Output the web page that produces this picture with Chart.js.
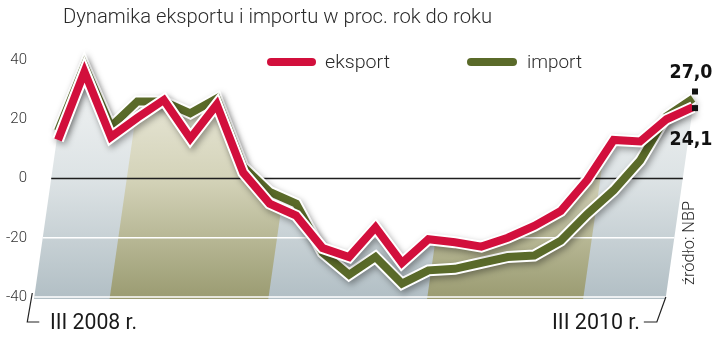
<!DOCTYPE html>
<html lang="pl">
<head>
<meta charset="UTF-8">
<title>Dynamika eksportu i importu</title>
<script src="https://cdn.jsdelivr.net/npm/chart.js"></script>
<style>
  body { margin: 0; background: #fff; }
</style>
</head>
<body>
<canvas id="wykres" width="720" height="354"></canvas>
<script>
// dane, % r/r
const miesiace = ['III 2008', 'IV 2008', 'V 2008', 'VI 2008', 'VII 2008', 'VIII 2008', 'IX 2008',
  'X 2008', 'XI 2008', 'XII 2008', 'I 2009', 'II 2009', 'III 2009', 'IV 2009', 'V 2009', 'VI 2009',
  'VII 2009', 'VIII 2009', 'IX 2009', 'X 2009', 'XI 2009', 'XII 2009', 'I 2010', 'II 2010', 'III 2010'];
const eksport = [13, 36, 14, 20.5, 26.5, 13.5, 25, 2, -8.5, -12.5, -23.5, -26.5, -16.5, -28.5,
  -20.5, -21.5, -23, -20, -16, -11, -0.5, 13, 12.5, 20, 24.1];
const importy = [16, 38, 17.5, 26, 26, 22, 27, 4, -4.5, -8.5, -25, -32.5, -26.5, -35.5,
  -31, -30.5, -28.5, -26.5, -26, -21, -12, -4, 6, 21, 27.0];
const yTicki = [40, 20, 0, -20, -40];
// okresy zacienione (indeksy miesiecy)
const pasy = [[2.6, 8.6], [14.6, 20.5]];
const etykietyKoncowe = ['27,0', '24,1'];

const SKOS = 0.143; // pochylenie krawedzi tla

function tekst(ctx, txt, x, y, font, kolor, szer, align) {
  ctx.save();
  ctx.font = font;
  ctx.fillStyle = kolor;
  ctx.textBaseline = 'alphabetic';
  const m = ctx.measureText(txt).width;
  const s = szer ? szer / m : 1;
  let x0 = x;
  if (align === 'right') x0 = x - m * s;
  if (align === 'center') x0 = x - m * s / 2;
  ctx.translate(x0, y);
  ctx.scale(s, 1);
  ctx.textAlign = 'left';
  ctx.fillText(txt, 0, 0);
  ctx.restore();
}

function rogi(chart) {
  const { scales: { x, y } } = chart;
  const dol = y.getPixelForValue(-40);
  const pts = [eksport, importy].map(d => d.map((v, i) => [x.getPixelForValue(i), y.getPixelForValue(v)]));
  const lewy = Math.min(...pts.map(p => p[0][0] - (dol - p[0][1]) * SKOS));
  const prawy = Math.max(...pts.map(p => p[p.length - 1][0] - (dol - p[p.length - 1][1]) * SKOS));
  return { dol, pts, lewy, prawy };
}

const dekor = {
  id: 'dekor',
  beforeDatasetsDraw(chart) {
    const { ctx, chartArea: ca, scales: { x, y } } = chart;
    const { dol, pts, lewy, prawy } = rogi(chart);
    ctx.save();
    ctx.beginPath();
    pts.forEach(p => {
      ctx.moveTo(p[0][0] - (dol + 2 - p[0][1]) * SKOS, dol + 2);
      p.forEach(q => ctx.lineTo(q[0], q[1]));
      const l = p[p.length - 1];
      ctx.lineTo(l[0] - (dol + 2 - l[1]) * SKOS, dol + 2);
      ctx.closePath();
    });
    const g = ctx.createLinearGradient(0, ca.top, 0, dol);
    g.addColorStop(0, '#f3f5f5');
    g.addColorStop(0.5, '#dde3e5');
    g.addColorStop(1, '#b2bfc5');
    ctx.fillStyle = g;
    ctx.fill();
    ctx.clip();

    const y0 = y.getPixelForValue(0);
    const g2 = ctx.createLinearGradient(0, ca.top, 0, dol);
    g2.addColorStop(0, '#efeee2');
    g2.addColorStop(0.5, '#d4d3b9');
    g2.addColorStop(1, '#9b9c72');
    ctx.fillStyle = g2;
    pasy.forEach(([a, b]) => {
      const xa = x.getPixelForValue(a), xb = x.getPixelForValue(b);
      const gora = ca.top - 20, dd = dol + 2;
      ctx.beginPath();
      ctx.moveTo(xa + (y0 - gora) * SKOS, gora);
      ctx.lineTo(xb + (y0 - gora) * SKOS, gora);
      ctx.lineTo(xb - (dd - y0) * SKOS, dd);
      ctx.lineTo(xa - (dd - y0) * SKOS, dd);
      ctx.closePath();
      ctx.fill();
    });
    ctx.restore();

    // linie siatki
    ctx.save();
    yTicki.filter(v => v <= 0).forEach(v => {
      const yy = y.getPixelForValue(v);
      ctx.beginPath();
      ctx.moveTo(lewy + (dol - yy) * SKOS, yy);
      ctx.lineTo(prawy + (dol - yy) * SKOS, yy);
      ctx.strokeStyle = v === 0 ? '#1e1e1e' : '#ffffff';
      ctx.lineWidth = v === 0 ? 1.3 : 1.5;
      ctx.stroke();
    });
    ctx.restore();
  },
  beforeDatasetDraw(chart, args) {
    const ctx = chart.ctx;
    ctx.save();
    if (args.index % 2 === 1) {
      ctx.shadowColor = 'rgba(0,0,0,0.35)';
      ctx.shadowBlur = 6;
      ctx.shadowOffsetX = 2;
      ctx.shadowOffsetY = 3;
    }
  },
  afterDatasetDraw(chart) {
    chart.ctx.restore();
  },
  afterDatasetsDraw(chart) {
    const { ctx, scales: { x, y } } = chart;
    const { dol, lewy, prawy } = rogi(chart);
    const ds = chart.data.datasets;
    const font = '300 19px Roboto';

    // tytul
    tekst(ctx, 'Dynamika eksportu i importu w proc. rok do roku', 63, 23, '300 21px Roboto', '#2b2b2b', 429);

    // legenda
    ctx.save();
    ctx.lineCap = 'round';
    ctx.lineWidth = 8;
    [[ds[0], 271, 312, 325, 65], [ds[2], 471, 513, 527, 55]].forEach(([d, x1, x2, xt, w]) => {
      ctx.beginPath();
      ctx.moveTo(x1, 62);
      ctx.lineTo(x2, 62);
      ctx.strokeStyle = d.borderColor;
      ctx.stroke();
      tekst(ctx, d.label, xt, 68, font, '#2b2b2b', w);
    });
    ctx.restore();

    // wartosci koncowe
    const n = miesiace.length - 1;
    const xe = x.getPixelForValue(n);
    const yi = y.getPixelForValue(importy[n]);
    const ye = y.getPixelForValue(eksport[n]);
    ctx.fillStyle = '#111';
    ctx.fillRect(xe - 1, yi - 10, 6, 6);
    ctx.fillRect(xe - 1, ye - 2, 6, 6);
    tekst(ctx, etykietyKoncowe[0], xe - 2, 78, 'bold 20px "DejaVu Sans Condensed"', '#111', 43, 'center');
    tekst(ctx, etykietyKoncowe[1], xe - 2, 145, 'bold 20px "DejaVu Sans Condensed"', '#111', 43, 'center');

    // podpisy osi czasu
    ctx.save();
    ctx.strokeStyle = '#222';
    ctx.lineWidth = 1.2;
    ctx.beginPath();
    ctx.moveTo(lewy - 2, dol - 4);
    ctx.lineTo(lewy - 7, dol + 25);
    ctx.lineTo(lewy + 5, dol + 25);
    ctx.moveTo(prawy, dol);
    ctx.lineTo(prawy - 9, dol + 25);
    ctx.lineTo(prawy - 22, dol + 25);
    ctx.stroke();
    ctx.restore();
    tekst(ctx, miesiace[0] + ' r.', 50, 329, '400 22px Roboto', '#1a1a1a', 87);
    tekst(ctx, miesiace[n] + ' r.', 640, 329, '400 22px Roboto', '#1a1a1a', 88, 'right');

    // zrodlo
    ctx.save();
    ctx.translate(694, 285);
    ctx.rotate(-Math.PI / 2);
    tekst(ctx, 'źródło: NBP', 0, 0, '300 17px Roboto', '#2b2b2b', 84);
    ctx.restore();
  }
};

new Chart(document.getElementById('wykres'), {
  type: 'line',
  data: {
    labels: miesiace,
    datasets: [
      { label: 'eksport', data: eksport, borderColor: '#d20f3c', borderWidth: 8 },
      { label: '', data: eksport, borderColor: '#ffffff', borderWidth: 12 },
      { label: 'import', data: importy, borderColor: '#5a6a29', borderWidth: 8 },
      { label: '', data: importy, borderColor: '#ffffff', borderWidth: 12 }
    ]
  },
  options: {
    responsive: false,
    animation: false,
    clip: false,
    layout: { padding: { top: 60, bottom: 57, left: 0, right: 27 } },
    elements: {
      line: { tension: 0, borderJoinStyle: 'miter', borderCapStyle: 'butt', fill: false },
      point: { radius: 0 }
    },
    plugins: { legend: { display: false }, tooltip: { enabled: false }, title: { display: false } },
    scales: {
      x: { display: false },
      y: {
        min: -40, max: 40,
        afterFit(scale) { scale.width = 58; },
        afterBuildTicks(scale) { scale.ticks = yTicki.map(v => ({ value: v })); },
        grid: { display: false, drawTicks: false },
        border: { display: false },
        ticks: { padding: 31, color: '#333', font: { family: 'Roboto', weight: '300', size: 15 } }
      }
    }
  },
  plugins: [dekor]
});
</script>
</body>
</html>
